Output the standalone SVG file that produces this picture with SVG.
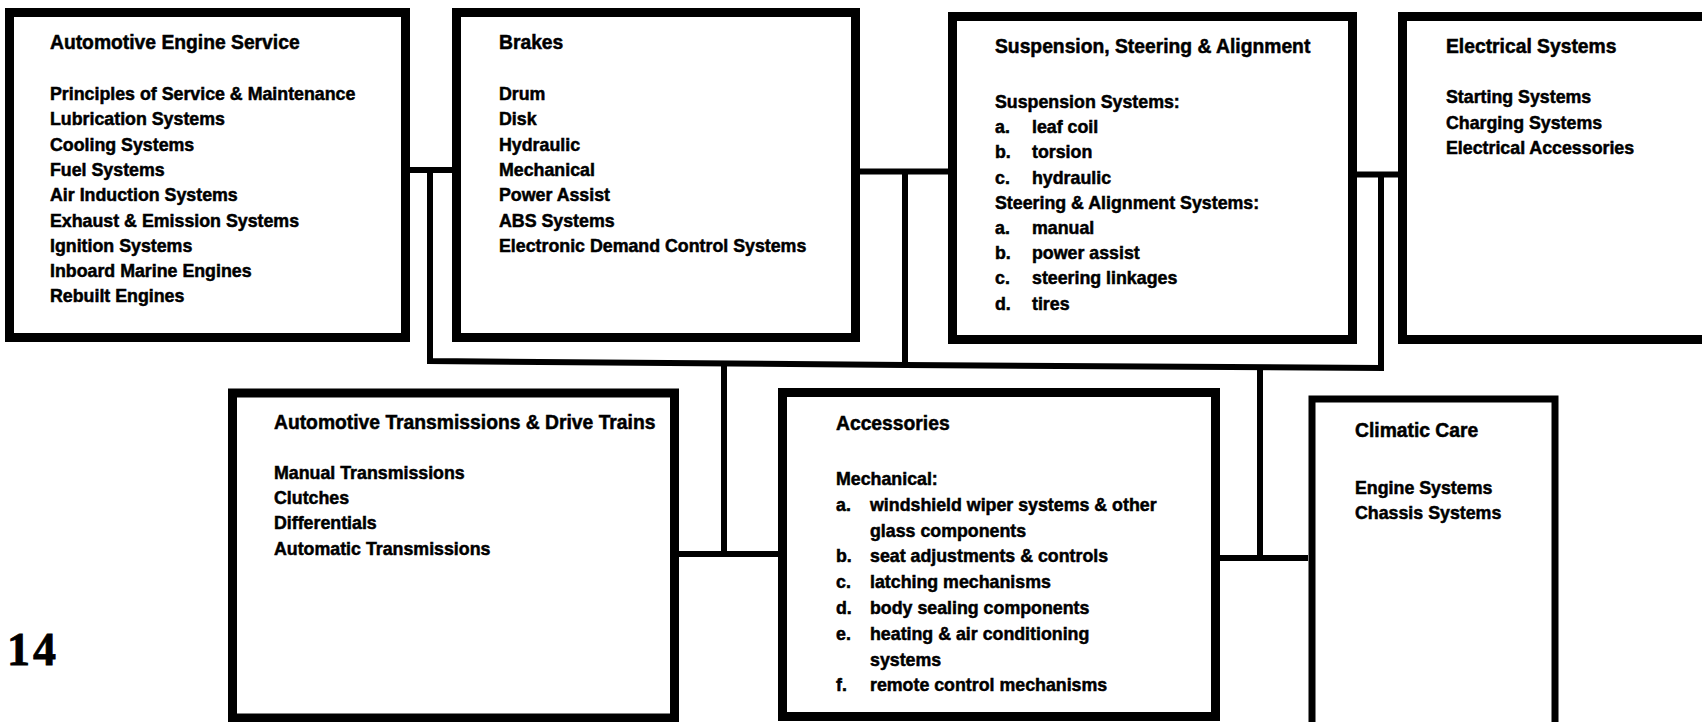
<svg xmlns="http://www.w3.org/2000/svg" width="1702" height="722" viewBox="0 0 1702 722">
<style>
.box{fill:#fff;stroke:#000;stroke-width:9}
.con{fill:none;stroke:#000;stroke-width:6;stroke-linejoin:miter}
text{font-family:"Liberation Sans",Arial,Helvetica,sans-serif;font-weight:bold;fill:#000;stroke:#000;stroke-width:0.5}
.t{font-size:19.3px}
.i{font-size:17.8px}
.pg{font-family:"Liberation Serif","Times New Roman",serif;font-size:46px;letter-spacing:3px;stroke-width:0.8}
</style>
<rect width="1702" height="722" fill="#fff"/>
<g id="connectors">
<path class="con" d="M410,170 H452"/>
<path class="con" d="M860,171.5 H948"/>
<path class="con" d="M1357,174.5 H1398"/>
<path class="con" d="M430,170 V361 L905,365 L1381,368 V174"/>
<path class="con" d="M905,171 V365"/>
<path class="con" d="M724,364 V554 M679,554 H778"/>
<path class="con" d="M1260,367 V558 M1220,558 H1308"/>
</g>
<g id="engine">
<rect class="box" x="9.5" y="12.5" width="396" height="325"/>
<text class="t" x="50" y="49">Automotive Engine Service</text>
<text class="i"><tspan x="50" y="100">Principles of Service &amp; Maintenance</tspan><tspan x="50" y="125.3">Lubrication Systems</tspan><tspan x="50" y="150.6">Cooling Systems</tspan><tspan x="50" y="175.9">Fuel Systems</tspan><tspan x="50" y="201.2">Air Induction Systems</tspan><tspan x="50" y="226.5">Exhaust &amp; Emission Systems</tspan><tspan x="50" y="251.8">Ignition Systems</tspan><tspan x="50" y="277.1">Inboard Marine Engines</tspan><tspan x="50" y="302.4">Rebuilt Engines</tspan></text>
</g>
<g id="brakes">
<rect class="box" x="456.5" y="12.5" width="399" height="325"/>
<text class="t" x="499" y="49">Brakes</text>
<text class="i"><tspan x="499" y="100">Drum</tspan><tspan x="499" y="125.3">Disk</tspan><tspan x="499" y="150.6">Hydraulic</tspan><tspan x="499" y="175.9">Mechanical</tspan><tspan x="499" y="201.2">Power Assist</tspan><tspan x="499" y="226.5">ABS Systems</tspan><tspan x="499" y="251.8">Electronic Demand Control Systems</tspan></text>
</g>
<g id="suspension">
<rect class="box" x="952.5" y="16.5" width="400" height="323"/>
<text class="t" x="995" y="53">Suspension, Steering &amp; Alignment</text>
<text class="i"><tspan x="995" y="108">Suspension Systems:</tspan><tspan x="995" y="133.2">a.</tspan><tspan x="1032" y="133.2">leaf coil</tspan><tspan x="995" y="158.4">b.</tspan><tspan x="1032" y="158.4">torsion</tspan><tspan x="995" y="183.6">c.</tspan><tspan x="1032" y="183.6">hydraulic</tspan><tspan x="995" y="208.8">Steering &amp; Alignment Systems:</tspan><tspan x="995" y="234">a.</tspan><tspan x="1032" y="234">manual</tspan><tspan x="995" y="259.2">b.</tspan><tspan x="1032" y="259.2">power assist</tspan><tspan x="995" y="284.4">c.</tspan><tspan x="1032" y="284.4">steering linkages</tspan><tspan x="995" y="309.6">d.</tspan><tspan x="1032" y="309.6">tires</tspan></text>
</g>
<g id="electrical">
<rect class="box" x="1402.5" y="16.5" width="420" height="323"/>
<text class="t" x="1446" y="53">Electrical Systems</text>
<text class="i"><tspan x="1446" y="103">Starting Systems</tspan><tspan x="1446" y="128.5">Charging Systems</tspan><tspan x="1446" y="154">Electrical Accessories</tspan></text>
</g>
<g id="transmissions">
<rect class="box" x="232.5" y="393" width="442" height="325"/>
<text class="t" x="274" y="429">Automotive Transmissions &amp; Drive Trains</text>
<text class="i"><tspan x="274" y="479">Manual Transmissions</tspan><tspan x="274" y="504.2">Clutches</tspan><tspan x="274" y="529.4">Differentials</tspan><tspan x="274" y="554.6">Automatic Transmissions</tspan></text>
</g>
<g id="accessories">
<rect class="box" x="782.5" y="392.5" width="433" height="324"/>
<text class="t" x="836" y="430">Accessories</text>
<text class="i"><tspan x="836" y="485">Mechanical:</tspan><tspan x="836" y="510.8">a.</tspan><tspan x="870" y="510.8">windshield wiper systems &amp; other</tspan><tspan x="870" y="536.6">glass components</tspan><tspan x="836" y="562.4">b.</tspan><tspan x="870" y="562.4">seat adjustments &amp; controls</tspan><tspan x="836" y="588.2">c.</tspan><tspan x="870" y="588.2">latching mechanisms</tspan><tspan x="836" y="614">d.</tspan><tspan x="870" y="614">body sealing components</tspan><tspan x="836" y="639.8">e.</tspan><tspan x="870" y="639.8">heating &amp; air conditioning</tspan><tspan x="870" y="665.6">systems</tspan><tspan x="836" y="691.4">f.</tspan><tspan x="870" y="691.4">remote control mechanisms</tspan></text>
</g>
<g id="climatic">
<rect class="box" x="1312" y="399" width="243" height="330" style="stroke-width:7"/>
<text class="t" x="1355" y="437">Climatic Care</text>
<text class="i"><tspan x="1355" y="494">Engine Systems</tspan><tspan x="1355" y="519">Chassis Systems</tspan></text>
</g>
<text class="pg" x="7" y="665">14</text>
</svg>
